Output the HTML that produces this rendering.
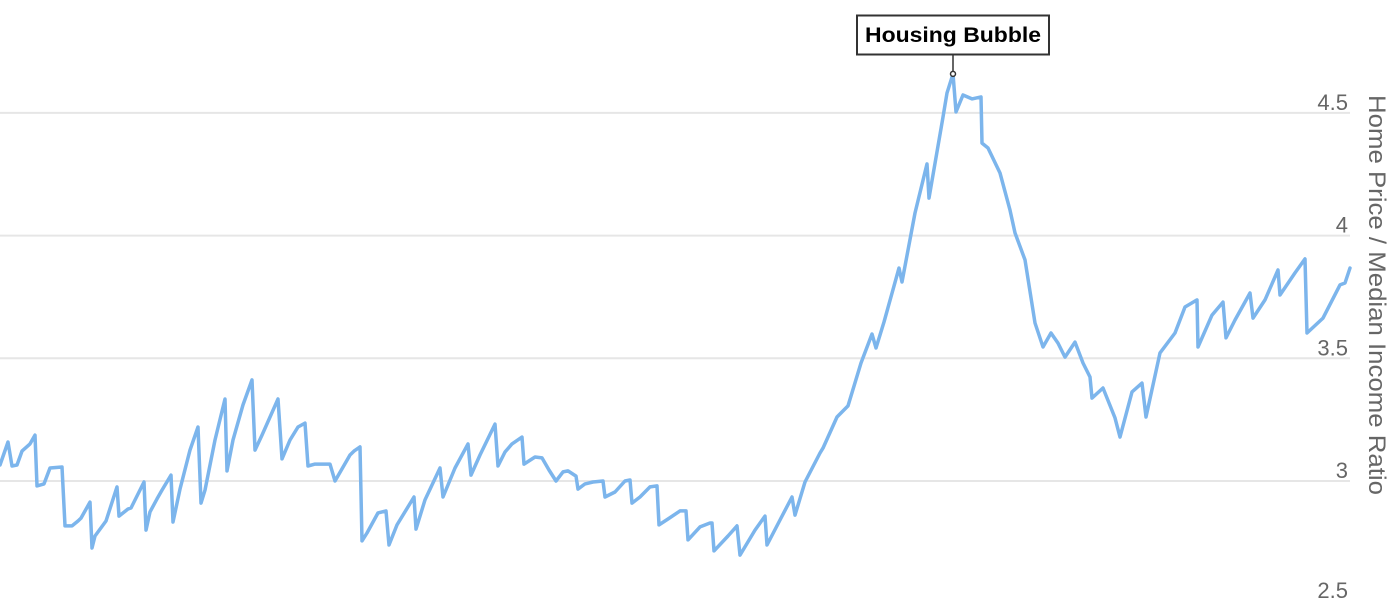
<!DOCTYPE html>
<html><head><meta charset="utf-8"><style>
html,body{margin:0;padding:0;background:#fff;}
svg{display:block;font-family:"Liberation Sans",sans-serif;}
</style></head><body>
<svg id="chart" width="1400" height="600" viewBox="0 0 1400 600">
<g id="grid"></g>
<g id="ticks"></g>
<text transform="translate(1369,295) rotate(90)" text-anchor="middle" font-size="24" fill="#666" textLength="400" lengthAdjust="spacingAndGlyphs">Home Price / Median Income Ratio</text>
<path id="line" fill="none" stroke="#7cb5ec" stroke-width="3.5" stroke-linejoin="round" stroke-linecap="round"></path>
<g id="ann"></g>
</svg>
<script>
const months=[0,3.2,4.8,6.8,8.8,12,14,14.8,17.6,20,24.8,26,28.8,31.2,32.4,36,36.8,38,42.4,46.8,47.6,51.2,52.4,57.6,58.4,60,62.8,64.8,68.4,69.2,72,76,79.2,80.4,82,86,90,90.8,93.2,97.2,100.8,102,104.8,111.2,112.8,116,119.2,122,123.2,126,132,134,140,141.6,144,144.8,146.8,151.2,154.4,155.6,158.8,165.6,166.4,170,176,177.2,182,187.2,188.4,192,198,199.2,202,204.8,208.8,209.6,214,216.8,219.6,222.4,225.2,227.2,230.4,231.2,234,237.2,241.2,242,246,250,252,252.8,256,260,262.8,263.6,267.2,272,274.4,275.2,280,284,284.8,285.6,291.2,294.8,296,302,306,306.8,312,316.8,318,322,328,329.2,334.8,339.2,344.4,348.8,350.4,353.6,359.6,360.8,366,370.8,371.6,377.2,378.8,381.2,382.4,385.2,388.8,392.4,392.8,395.2,400,404,406,410,414,417.2,420.4,423.2,426,430,433.2,436,436.8,441.2,446,448,452.8,456.8,458.4,464,470,474,478.8,479.2,484.8,489.2,490.4,494,500,501.2,506,511.2,512,518,522,522.8,529.2,536,538,540];
const ratios=[3.065,3.159,3.061,3.065,3.122,3.151,3.187,2.980,2.988,3.053,3.057,2.817,2.817,2.837,2.849,2.914,2.727,2.776,2.837,2.976,2.857,2.886,2.890,2.996,2.800,2.874,2.927,2.963,3.024,2.833,2.967,3.126,3.220,2.910,2.963,3.167,3.334,3.041,3.167,3.310,3.412,3.126,3.187,3.334,3.090,3.167,3.220,3.236,3.061,3.069,3.069,3.000,3.106,3.122,3.139,2.756,2.788,2.870,2.878,2.739,2.821,2.935,2.804,2.923,3.053,2.935,3.053,3.151,3.024,3.106,3.232,3.061,3.118,3.151,3.179,3.069,3.098,3.094,3.045,3.000,3.037,3.041,3.020,2.967,2.988,2.996,3.000,2.935,2.955,3.000,3.004,2.910,2.935,2.976,2.980,2.821,2.845,2.878,2.878,2.760,2.813,2.829,2.829,2.715,2.776,2.817,2.698,2.800,2.857,2.739,2.841,2.935,2.861,2.996,3.114,3.134,3.261,3.306,3.481,3.599,3.542,3.648,3.868,3.811,4.092,4.292,4.153,4.483,4.581,4.659,4.504,4.573,4.557,4.565,4.377,4.357,4.255,4.104,4.011,3.901,3.644,3.546,3.603,3.562,3.505,3.566,3.481,3.424,3.338,3.379,3.257,3.179,3.363,3.399,3.261,3.522,3.603,3.709,3.738,3.546,3.676,3.729,3.583,3.656,3.766,3.664,3.738,3.860,3.758,3.848,3.905,3.603,3.664,3.799,3.807,3.868];
const tickValues=[2.5,3,3.5,4,4.5];
const tickLabels=["2.5","3","3.5","4","4.5"];
const annotationLabel="Housing Bubble";
const annotationIndex=129;

const xS=m=>m*2.5;
const yS=v=>481-(v-3)*245.4;
const NS="http://www.w3.org/2000/svg";
const grid=document.getElementById('grid'),ticks=document.getElementById('ticks');
tickValues.forEach((t,i)=>{
  const y=yS(t);
  const l=document.createElementNS(NS,'line');
  
  
  l.setAttribute('x1',0);l.setAttribute('x2',1350);l.setAttribute('y1',y);l.setAttribute('y2',y);
  l.setAttribute('stroke','#e6e6e6');l.setAttribute('stroke-width','2');
  grid.appendChild(l);
  const tx=document.createElementNS(NS,'text');
  
  
  tx.setAttribute('x',1348);tx.setAttribute('y',Math.min(y-3,598));
  tx.setAttribute('text-anchor','end');tx.setAttribute('font-size','22');tx.setAttribute('fill','#666');
  tx.textContent=tickLabels[i];
  ticks.appendChild(tx);
});
let d='';
months.forEach((m,i)=>{d+=(i?'L':'M')+xS(m).toFixed(1)+','+yS(ratios[i]).toFixed(1);});
document.getElementById('line').setAttribute('d',d);
const ax=xS(months[annotationIndex]),ay=yS(ratios[annotationIndex]);
const ann=document.getElementById('ann');
ann.innerHTML='<line x1="'+ax+'" y1="55" x2="'+ax+'" y2="'+(ay-2)+'" stroke="#333" stroke-width="1.5"/>'+
'<circle cx="'+ax+'" cy="'+ay+'" r="2.5" fill="#fff" stroke="#333" stroke-width="1.5"/>'+
'<rect x="'+(ax-96)+'" y="15.5" width="192" height="39" fill="#fff" stroke="#333" stroke-width="2"/>'+
'<text x="'+ax+'" y="42" text-anchor="middle" font-size="21" font-weight="bold" fill="#000" textLength="176" lengthAdjust="spacingAndGlyphs">'+annotationLabel+'</text>';
</script>
</body></html>
